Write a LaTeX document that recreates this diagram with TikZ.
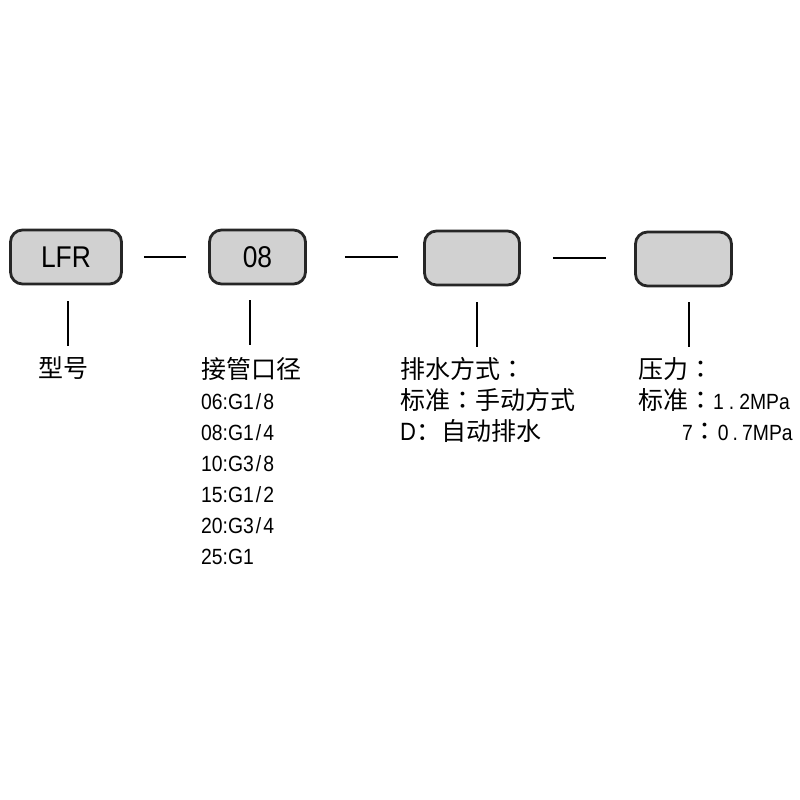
\documentclass[tikz,border=0pt]{standalone}
\usepackage{fontspec}
\setmainfont{Noto Sans CJK SC}
\newfontfamily\latinfont{Liberation Sans}[FakeStretch=0.88]
\newfontfamily\colonfont{Noto Sans CJK TC}
\newcommand{\cc}{{\colonfont ：}}
\newcommand{\num}[1]{{\latinfont\fontsize{22}{31}\selectfont #1}}
\usetikzlibrary{positioning}

\begin{document}
\begin{tikzpicture}[x=1pt,y=-1pt]
	\tikzstyle{Box}		= [draw=black!85, line width=2.8pt, rounded corners=12pt, fill=black!18, minimum height=54pt, inner sep=0pt, font=\latinfont\fontsize{30}{30}\selectfont]
	\tikzstyle{Dash}	= [line width=1.6pt]
	\tikzstyle{Lead}	= [line width=1.4pt]
	\tikzstyle{Note}	= [anchor=north west, align=left, inner sep=0pt, font=\latinfont\fontsize{22}{31}\selectfont]
	\tikzstyle{Head}	= [font=\fontsize{25}{31}\selectfont]

	\useasboundingbox (0,0) rectangle (800,800);

	\node (b1) at (66,257) [Box][minimum width=111pt] {LFR};
	\node (b2) at (257.5,257) [Box][minimum width=96pt] {08};
	\node (b3) at (472,258) [Box][minimum width=95pt] {};
	\node (b4) at (683.5,259) [Box][minimum width=96pt] {};

	\draw [-] (b1) to (b2) [Dash, shorten <=21pt, shorten >=22pt];
	\draw [-] (b2.east) to (b3.west |- b2.east) [Dash, shorten <=38pt, shorten >=25pt];
	\draw [-] (b3.east) to (b4.west |- b3.east) [Dash, shorten <=32pt, shorten >=28pt];

	\coordinate (e1) at (68,346);
	\coordinate (e2) at (250,345);
	\coordinate (e3) at (477,347);
	\coordinate (e4) at (689,347);
	\draw [-] (b1.south -| e1) to (e1) [Lead, shorten <=16pt];
	\draw [-] (b2.south -| e2) to (e2) [Lead, shorten <=15pt];
	\draw [-] (b3.south -| e3) to (e3) [Lead, shorten <=16pt];
	\draw [-] (b4.south -| e4) to (e4) [Lead, shorten <=15pt];

	\node (t1) at (38,356) [Note, Head] {型号};
	\node (t2) at (201,357) [Note] {{\rmfamily\fontsize{25}{31}\selectfont 接管口径}\\06:G1\kern2pt/\kern2pt8\\08:G1\kern2pt/\kern2pt4\\10:G3\kern2pt/\kern2pt8\\15:G1\kern2pt/\kern2pt2\\20:G3\kern2pt/\kern2pt4\\25:G1};
	\node (t3) at (400,357) [Note, Head] {排水方式\cc\\标准\cc 手动方式\\{\latinfont D}：自动排水};
	\node (t4) at (638,357) [Note, Head] {压力\cc\\标准\cc\num{1\kern5pt.\kern5pt2MPa}\\\hspace*{44pt}\num{7}\cc\num{0\kern4pt.\kern4pt7MPa}};
\end{tikzpicture}
\end{document}
